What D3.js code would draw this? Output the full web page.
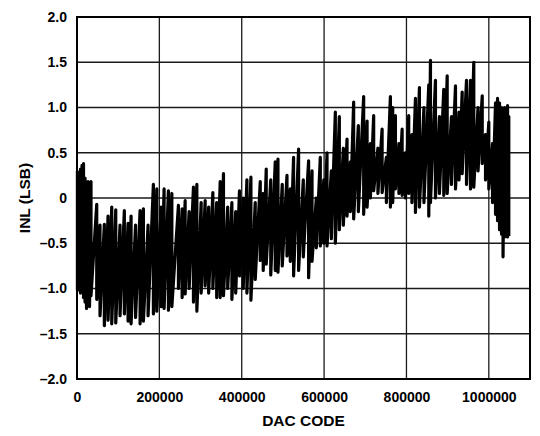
<!DOCTYPE html>
<html>
<head>
<meta charset="utf-8">
<script src="https://cdn.jsdelivr.net/npm/d3@7"></script>
<style>
  body { margin: 0; background: #fff; }
  text { font-family: "Liberation Sans", Arial, sans-serif; font-weight: bold; }
</style>
</head>
<body>
<svg width="540" height="436"></svg>
<script>
// tick values
var xTicks = [0, 200000, 400000, 600000, 800000, 1000000];
var yTicks = [-2, -1.5, -1, -0.5, 0, 0.5, 1, 1.5, 2];

// INL trace: each pillar has a code, a high and a low
var pillarCode = [
  1000, 5000, 8500, 12200, 15800, 19500, 23100, 26700, 30400, 34000,
  47900, 55900, 66400, 75400, 84400, 94100, 104500, 115000, 124000, 131300,
  142200, 153200, 161200, 172600, 185500, 193800, 204200, 211500, 222000, 230300,
  246300, 255300, 262600, 272300, 282800, 291000, 301500, 311200, 319700, 329900,
  339200, 347700, 355700, 365900, 376100, 385400, 394600, 403600, 412600, 422300,
  432800, 445000, 452200, 459500, 470500, 481400, 488000, 498400, 509900, 517900,
  525900, 538100, 549500, 562400, 570700, 581100, 590800, 599300, 607100, 617600,
  627300, 637000, 646800, 655700, 663800, 671800, 683200, 696100, 704400, 712400,
  720400, 730700, 740900, 751300, 761000, 766600, 773200, 781700, 789500, 797500,
  805500, 813300, 821800, 831500, 842500, 854200, 858300, 870400, 880100, 890600,
  898900, 909300, 919100, 927600, 935300, 945800, 955500, 963500, 973800, 984000,
  992000, 1000000, 1009000, 1016300, 1021200, 1026000, 1030900, 1034500, 1038200, 1041800,
  1045500, 1048500
];
var pillarHigh = [
  0.30, 0.25, 0.32, 0.36, 0.38, 0.22, 0.15, 0.18, 0.08, 0.18,
  -0.07, -0.30, -0.29, -0.20, -0.10, -0.13, -0.30, -0.14, -0.28, -0.20,
  -0.30, -0.14, -0.12, -0.30, 0.15, 0.10, -0.10, 0.10, 0.08, 0.05,
  -0.08, -0.12, -0.03, -0.15, 0.12, 0.15, -0.05, -0.03, -0.10, 0.06,
  -0.05, 0.18, 0.27, -0.10, -0.05, -0.15, 0.08, 0.00, 0.20, 0.23,
  -0.05, 0.18, 0.05, 0.32, 0.20, 0.40, 0.43, 0.15, 0.25, 0.10,
  0.45, 0.54, 0.20, 0.41, 0.30, 0.00, 0.45, 0.20, 0.50, 0.30,
  0.95, 0.90, 0.55, 0.65, 0.40, 1.06, 0.80, 1.12, 0.85, 0.60,
  0.91, 0.55, 0.76, 0.45, 1.12, 1.00, 0.91, 0.60, 0.76, 0.50,
  0.91, 0.70, 1.10, 1.22, 1.00, 1.25, 1.52, 1.30, 0.90, 1.20,
  1.35, 0.90, 1.24, 0.95, 1.17, 1.30, 1.30, 1.50, 1.00, 1.13,
  0.70, 0.84, 0.60, 1.05, 1.10, 1.05, 1.00, 0.98, 1.00, 0.95,
  1.02, 0.90
];
var pillarLow = [
  -1.02, -0.93, -1.05, -0.98, -1.10, -1.15, -1.22, -1.05, -1.20, -1.08,
  -1.12, -1.30, -1.41, -1.35, -1.39, -1.38, -1.30, -1.28, -1.36, -1.39,
  -1.32, -1.39, -1.36, -1.30, -1.28, -1.25, -1.20, -1.22, -1.24, -1.20,
  -1.00, -1.10, -1.06, -1.00, -1.15, -1.25, -1.05, -0.97, -1.05, -1.00,
  -1.10, -1.10, -1.08, -1.00, -1.12, -1.05, -0.86, -1.00, -1.05, -1.13,
  -0.90, -0.69, -0.80, -0.73, -0.85, -0.80, -0.82, -0.75, -0.64, -0.70,
  -0.86, -0.80, -0.65, -0.88, -0.70, -0.55, -0.53, -0.50, -0.53, -0.45,
  -0.50, -0.35, -0.30, -0.20, -0.15, -0.23, -0.15, -0.18, -0.10, 0.00,
  0.08, 0.05, 0.06, -0.05, -0.10, -0.05, 0.10, 0.05, 0.03, 0.00,
  0.05, -0.05, -0.16, -0.10, -0.05, -0.20, -0.05, 0.00, 0.05, 0.03,
  0.05, 0.15, 0.10, 0.20, 0.27, 0.15, 0.10, 0.12, 0.30, 0.38,
  0.20, 0.10, -0.05, -0.18, -0.25, -0.35, -0.40, -0.65, -0.43, -0.35,
  -0.43, -0.42
];

var svg = d3.select("svg"),
    margin = { top: 17, right: 10, bottom: 57, left: 77 },
    width = 540 - margin.left - margin.right,
    height = 436 - margin.top - margin.bottom;

var g = svg.append("g").attr("transform", "translate(" + margin.left + "," + margin.top + ")");

var x = d3.scaleLinear().domain([0, 1100000]).range([0, width]);
var y = d3.scaleLinear().domain([-2, 2]).range([height, 0]);

var fmtY = function(d) {
  var s = d === 0 ? "0" : d3.format(".1f")(Math.abs(d));
  return d < 0 ? "\u2013" + s : s;
};

// grid
g.append("g").selectAll("line").data(xTicks.slice(1)).enter().append("line")
  .attr("x1", function(d) { return x(d); }).attr("x2", function(d) { return x(d); })
  .attr("y1", 0).attr("y2", height)
  .attr("stroke", "#1a1a1a").attr("stroke-width", 1.3);
g.append("g").selectAll("line").data(yTicks.slice(1, -1)).enter().append("line")
  .attr("x1", 0).attr("x2", width)
  .attr("y1", function(d) { return y(d); }).attr("y2", function(d) { return y(d); })
  .attr("stroke", "#1a1a1a").attr("stroke-width", 1.3);

// trace: high then low for each pillar
var points = [];
pillarCode.forEach(function(c, i) {
  points.push([c, pillarHigh[i]]);
  points.push([c, pillarLow[i]]);
});

g.append("path")
  .datum(points)
  .attr("fill", "none")
  .attr("stroke", "#000")
  .attr("stroke-width", 3.2)
  .attr("stroke-linejoin", "round")
  .attr("d", d3.line().x(function(d) { return x(d[0]); }).y(function(d) { return y(d[1]); }));

// frame
g.append("rect").attr("width", width).attr("height", height)
  .attr("fill", "none").attr("stroke", "#000").attr("stroke-width", 2);

// axes (labels only)
var xAxis = g.append("g").attr("transform", "translate(0," + height + ")")
  .call(d3.axisBottom(x).tickValues(xTicks).tickSize(0).tickPadding(13).tickFormat(d3.format("d")));
var yAxis = g.append("g")
  .call(d3.axisLeft(y).tickValues(yTicks).tickSize(0).tickPadding(10).tickFormat(fmtY));
[xAxis, yAxis].forEach(function(a) {
  a.select(".domain").remove();
  a.selectAll("text").attr("font-size", 14).attr("font-family", "Liberation Sans, Arial, sans-serif")
    .attr("font-weight", "bold").attr("fill", "#000");
});

svg.append("text")
  .attr("x", margin.left + width / 2).attr("y", 426)
  .attr("text-anchor", "middle").attr("font-size", 15.5)
  .text("DAC CODE");

svg.append("text")
  .attr("transform", "translate(30," + (margin.top + height / 2) + ") rotate(-90)")
  .attr("text-anchor", "middle").attr("font-size", 15.5)
  .text("INL (LSB)");
</script>
</body>
</html>
